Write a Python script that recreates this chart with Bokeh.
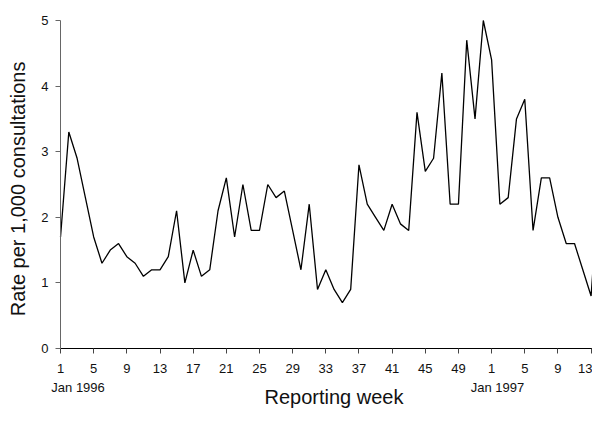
import math
from bokeh.plotting import figure
from bokeh.models import FixedTicker, Label, Range1d
from bokeh.embed import file_html
from bokeh.resources import INLINE

# Weekly consultation rates: weeks 1-52 of 1996, then weeks 1-14 of 1997
rates_1996 = [1.7, 3.3, 2.9, 2.3, 1.7, 1.3, 1.5, 1.6, 1.4, 1.3,
              1.1, 1.2, 1.2, 1.4, 2.1, 1.0, 1.5, 1.1, 1.2, 2.1,
              2.6, 1.7, 2.5, 1.8, 1.8, 2.5, 2.3, 2.4, 1.8, 1.2,
              2.2, 0.9, 1.2, 0.9, 0.7, 0.9, 2.8, 2.2, 2.0, 1.8,
              2.2, 1.9, 1.8, 3.6, 2.7, 2.9, 4.2, 2.2, 2.2, 4.7,
              3.5, 5.0]
rates_1997 = [4.4, 2.2, 2.3, 3.5, 3.8, 1.8, 2.6, 2.6, 2.0, 1.6,
              1.6, 1.2, 0.8, 2.6]

weeks_1996 = list(range(1, len(rates_1996) + 1))
weeks_1997 = list(range(1, len(rates_1997) + 1))

week_labels = [str(w) for w in weeks_1996] + [str(w) for w in weeks_1997]
rates = rates_1996 + rates_1997
index = list(range(1, len(rates) + 1))

tick_positions = index[::4]
y_ticks = [0, 1, 2, 3, 4, 5]
year_labels = ["Jan 1996", "Jan 1997"]
year_start_index = [1, len(rates_1996) + 1]

FONT = "Liberation Sans"
TXT = "#111111"

p = figure(width=592, height=410, output_backend="svg", toolbar_location=None,
           x_range=Range1d(-6.24, 65.17), y_range=Range1d(-0.945, 5.305),
           min_border_left=0, min_border_right=0, min_border_top=0,
           min_border_bottom=0)
p.outline_line_color = None
p.xgrid.visible = False
p.ygrid.visible = False
p.background_fill_color = "white"
p.border_fill_color = "white"

p.line(index, rates, line_color="black", line_width=1.3)

xa = p.xaxis[0]
xa.fixed_location = 0
xa.bounds = (1, 65.17)
xa.ticker = FixedTicker(ticks=tick_positions)
xa.major_label_overrides = {i: week_labels[i - 1] for i in tick_positions}
xa.major_tick_out = 5
xa.major_tick_in = 0
xa.minor_tick_out = 0
xa.minor_tick_in = 0
xa.axis_line_color = "black"
xa.major_tick_line_color = "#444444"
xa.major_label_text_font = FONT
xa.major_label_text_font_size = "13px"
xa.major_label_text_color = TXT
xa.major_label_standoff = 10

ya = p.yaxis[0]
ya.fixed_location = 1
ya.bounds = (0, 5)
ya.ticker = FixedTicker(ticks=y_ticks)
ya.major_tick_out = 5
ya.major_tick_in = 0
ya.minor_tick_out = 0
ya.minor_tick_in = 0
ya.axis_line_color = "#666666"
ya.major_tick_line_color = "#666666"
ya.major_label_text_font = FONT
ya.major_label_text_font_size = "13px"
ya.major_label_text_color = TXT
ya.major_label_standoff = 7

# axis titles
p.add_layout(Label(x=1, y=2.5, x_offset=-42.5, y_offset=-4.4,
                   text="Rate per 1,000 consultations", angle=math.pi / 2,
                   text_font=FONT, text_font_size="20px", text_color=TXT,
                   text_align="center", text_baseline="middle"))
p.add_layout(Label(x=1, y=0, x_offset=204, y_offset=-48.5, text="Reporting week",
                   text_font=FONT, text_font_size="20px", text_color=TXT,
                   text_align="left", text_baseline="alphabetic"))

# year markers under the week ticks
for xpos, txt, off in zip(year_start_index, year_labels, [-9.2, -20.9]):
    p.add_layout(Label(x=xpos, y=0, x_offset=off, y_offset=-38.5, text=txt,
                       text_font=FONT, text_font_size="13px",
                       text_color=TXT, text_align="left",
                       text_baseline="alphabetic"))

open("out.html", "w").write(file_html(p, INLINE))
